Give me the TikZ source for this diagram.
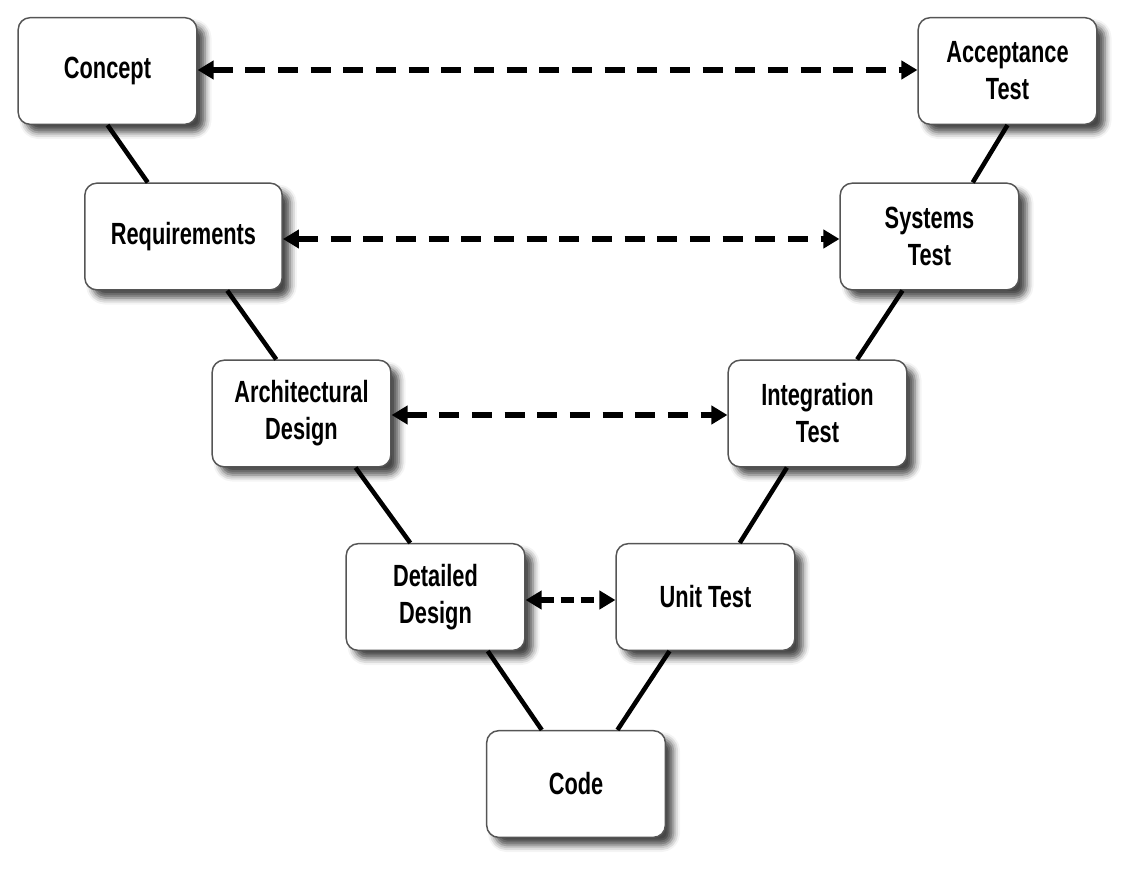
\documentclass[tikz,border=0pt]{standalone}
\usepackage{fontspec}
\usepackage{tikz}
\usetikzlibrary{arrows.meta,calc,shadows.blur}
\newfontfamily\vboxfont{Liberation Sans}[FakeStretch=0.71]

\tikzset{
  stage/.style={draw={rgb,255:red,85;green,85;blue,85},line width=1.1pt,fill=white,
    rounded corners=9pt,minimum width=134pt,minimum height=80pt,align=center,
    inner sep=2pt,font=\vboxfont\bfseries\fontsize{23}{27.75}\selectfont,
    blur shadow={shadow xshift=6pt,shadow yshift=-6pt,shadow blur radius=5pt,shadow opacity=72}},
  vline/.style={line width=3.4pt},
  trace/.style={line width=4.5pt,dash pattern={on 15pt off 9.5pt},
    {Triangle[length=12pt,width=13.5pt]}-{Triangle[length=12pt,width=13.5pt]}}
}

\begin{document}
\begin{tikzpicture}[x=0.75pt,y=0.75pt,yscale=-1,xscale=1]
\useasboundingbox (0,0) rectangle (1130,870);
% Left branch
\node [stage] (concept) at (107.5,71) {Concept};
\node [stage,minimum width=148pt] (req) at (183.5,236.5) {Requirements};
\node [stage] (arch) at (301.5,413.5) {Architectural\\Design};
\node [stage] (detail) at (435.5,597) {Detailed\\Design};
% Bottom
\node [stage] (code) at (576,784) {Code};
% Right branch
\node [stage] (unit) at (705.5,597) {Unit Test};
\node [stage] (integ) at (817.5,413.5) {Integration\\Test};
\node [stage] (sys) at (929.5,236.5) {Systems\\Test};
\node [stage] (accept) at (1007.5,71) {Acceptance\\Test};
%Straight Lines
\draw [vline] ($(concept.south west)!0.5!(concept.south east)$) -- ($(req.north west)!0.32!(req.north east)$);
\draw [vline] ($(req.south west)!0.72!(req.south east)$) -- ($(arch.north west)!0.36!(arch.north east)$);
\draw [vline] ($(arch.south west)!0.8!(arch.south east)$) -- ($(detail.north west)!0.36!(detail.north east)$);
\draw [vline] ($(detail.south west)!0.79!(detail.south east)$) -- ($(code.north west)!0.31!(code.north east)$);
\draw [vline] ($(code.north west)!0.73!(code.north east)$) -- ($(unit.south west)!0.3!(unit.south east)$);
\draw [vline] ($(unit.north west)!0.69!(unit.north east)$) -- ($(integ.south west)!0.33!(integ.south east)$);
\draw [vline] ($(integ.north west)!0.72!(integ.north east)$) -- ($(sys.south west)!0.35!(sys.south east)$);
\draw [vline] ($(sys.north west)!0.74!(sys.north east)$) -- ($(accept.south west)!0.5!(accept.south east)$);
%Dashed arrows
\draw [trace] ($(concept.east)+(0,-1)$) -- ($(accept.west)+(0,-1)$);
\draw [trace] ($(req.east)+(0,2.5)$) -- ($(sys.west)+(0,2.5)$);
\draw [trace] ($(arch.east)+(0,1.5)$) -- ($(integ.west)+(0,1.5)$);
\draw [trace,dash pattern={on 10pt off 5pt}] ($(detail.east)+(0,3)$) -- ($(unit.west)+(0,3)$);
\end{tikzpicture}
\end{document}
